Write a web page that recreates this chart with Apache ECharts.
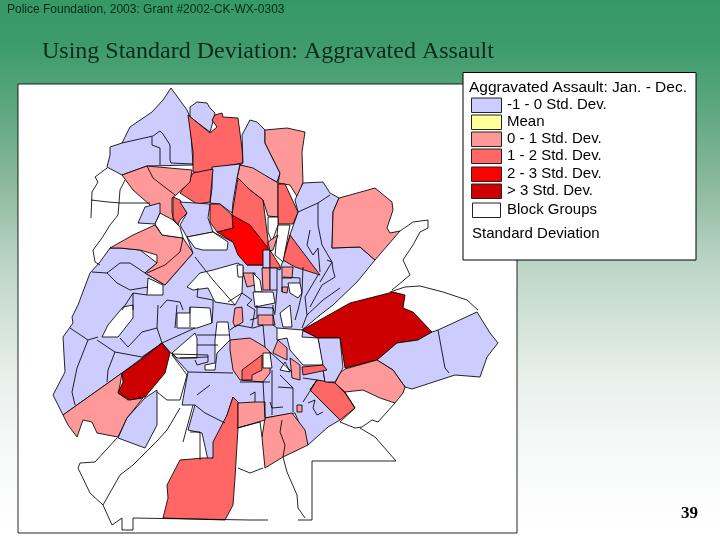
<!DOCTYPE html>
<html><head><meta charset="utf-8">
<style>html,body{margin:0;padding:0;background:#fff}#c{width:720px;height:540px}</style>
<script src="https://cdn.jsdelivr.net/npm/echarts@6/dist/echarts.min.js"></script>
</head><body><div id="c"></div>
<script>
const headerText = "Police Foundation, 2003: Grant #2002-CK-WX-0303";
const titleText = "Using Standard Deviation: Aggravated Assault";
const pageNumber = "39";
const legendTitle = "Aggravated Assault: Jan. - Dec.";
const legendFooter = "Standard Deviation";
const legendLabels = ["-1 - 0 Std. Dev.","Mean","0 - 1 Std. Dev.","1 - 2 Std. Dev.","2 - 3 Std. Dev.","> 3 Std. Dev.","Block Groups"];
const classColors = ["#ccccff","#ffff99","#ff9999","#ff6666","#ff0000","#cc0000","#ffffff"];
const LAV=0,PINK=2,MID=3,RED=4,DARK=5,WHITE=6;

// Block-group shapes, in drawing order: [class, outline]
const frame = [[18,84],[517,84],[517,533],[18,533]];
const shapes = [
 [LAV,[[171,88],[187,110],[190,117],[193,165],[147,166],[122,175],[107,167],[110,155],[110,147],[122,143],[130,127],[152,112],[163,100]]],
 [LAV,[[190,107],[197,102],[207,103],[210,108],[215,113],[212,125],[210,132],[190,117]]],
 [MID,[[188,115],[210,133],[217,127],[212,120],[215,115],[222,113],[223,117],[238,118],[242,148],[243,163],[220,167],[202,173],[193,172],[193,152]]],
 [LAV,[[243,163],[242,135],[250,120],[257,122],[265,130],[265,143],[280,173],[277,182],[250,168],[240,165]]],
 [PINK,[[265,130],[287,128],[305,132],[302,152],[303,182],[298,198],[290,185],[278,183],[277,182],[280,173],[265,143]]],
 [LAV,[[100,262],[110,248],[120,248],[140,250],[157,263],[145,273],[165,285],[193,253],[187,237],[213,232],[233,242],[247,265],[268,265],[280,270],[283,260],[290,235],[298,212],[295,200],[303,183],[323,182],[330,193],[339,198],[333,212],[332,248],[360,247],[375,260],[357,282],[333,305],[320,315],[302,330],[318,338],[325,382],[317,380],[310,390],[340,420],[328,427],[308,445],[295,413],[265,418],[238,403],[233,397],[213,458],[208,460],[202,433],[188,430],[195,405],[182,405],[188,372],[172,354],[162,343],[122,373],[63,415],[53,395],[65,372],[63,337],[73,323],[72,317],[78,305],[90,273]]],
 [PINK,[[240,165],[253,168],[278,183],[278,217],[268,216],[263,200],[250,190],[237,178]]],
 [MID,[[238,178],[250,190],[263,200],[268,240],[268,250],[232,215],[234,202]]],
 [RED,[[232,215],[250,225],[268,248],[268,265],[247,265],[238,255],[233,242],[217,232],[233,228]]],
 [MID,[[278,184],[285,184],[298,212],[293,224],[278,224]]],
 [LAV,[[212,167],[240,164],[237,178],[233,202],[232,213],[220,204],[210,203],[212,188]]],
 [MID,[[193,173],[213,169],[210,202],[197,204],[180,193],[188,182]]],
 [PINK,[[122,175],[147,166],[192,170],[190,182],[176,195],[172,198],[172,212],[174,222],[165,218],[150,205],[133,190]]],
 [MID,[[173,197],[180,200],[187,213],[180,220],[178,225],[173,218]]],
 [LAV,[[180,202],[210,204],[208,218],[213,232],[187,237],[180,225],[187,213]]],
 [MID,[[210,204],[220,204],[232,215],[233,228],[217,232],[210,222]]],
 [PINK,[[110,248],[133,235],[155,225],[162,235],[183,238],[193,253],[165,285],[145,273],[157,263],[157,255],[140,250],[120,248]]],
 [LAV,[[138,223],[145,207],[160,203],[160,213],[155,224]]],
 [PINK,[[339,198],[350,195],[375,188],[392,202],[393,210],[387,228],[390,233],[400,231],[375,260],[360,247],[332,248],[333,212]]],
 [DARK,[[302,330],[350,303],[393,292],[405,295],[403,308],[413,312],[432,332],[418,340],[397,343],[377,360],[345,368],[340,338],[318,338]]],
 [LAV,[[432,332],[438,330],[477,312],[490,333],[498,343],[487,357],[480,377],[455,375],[412,389],[405,387],[393,370],[377,360],[397,343],[418,340]]],
 [PINK,[[345,369],[377,360],[393,370],[405,387],[403,393],[395,403],[380,398],[363,390],[345,392],[335,383],[340,373]]],
 [MID,[[317,380],[335,383],[345,393],[355,408],[340,420],[310,390]]],
 [LAV,[[318,338],[340,338],[343,368],[335,382],[325,382]]],
 [PINK,[[265,418],[292,413],[305,430],[308,445],[283,457],[265,468],[263,448],[262,437]]],
 [MID,[[233,397],[238,402],[238,428],[235,478],[233,505],[225,520],[163,518],[168,498],[167,485],[180,460],[203,458],[213,458],[213,442],[227,415]]],
 [PINK,[[63,415],[122,373],[120,385],[118,393],[128,400],[143,398],[127,418],[118,437],[97,433],[92,422],[83,420],[77,437],[68,425]]],
 [DARK,[[162,343],[170,353],[165,373],[145,397],[130,400],[118,393],[123,382],[122,373],[138,362]]],
 [LAV,[[157,390],[157,425],[145,448],[118,438],[127,418],[145,398]]],
 [WHITE,[[102,337],[108,325],[123,307],[133,305],[133,318],[118,337]]],
 [WHITE,[[177,313],[190,313],[190,307],[210,308],[212,323],[197,328],[177,328]]],
 [WHITE,[[172,353],[195,333],[197,338],[197,358],[177,358]]],
 [WHITE,[[217,322],[228,322],[230,340],[217,353],[215,370],[205,370],[205,365],[215,363],[215,340]]],
 [WHITE,[[187,237],[213,232],[228,242],[227,250],[203,250],[195,248]]],
 [WHITE,[[160,213],[155,224],[162,235],[183,238],[180,227],[173,220]]],
 [WHITE,[[187,287],[200,273],[213,270],[238,263],[243,267],[242,293],[235,305],[215,302],[208,288],[193,290]]],
 [WHITE,[[148,278],[163,285],[163,295],[147,295]]],
 [LAV,[[263,250],[270,250],[270,268],[263,268]]],
 [MID,[[270,250],[280,266],[280,268],[270,268]]],
 [PINK,[[262,268],[270,268],[270,290],[263,290]]],
 [LAV,[[270,268],[277,268],[277,290],[270,290]]],
 [PINK,[[243,273],[255,273],[255,285],[247,287]]],
 [WHITE,[[253,273],[260,280],[262,292],[255,292]]],
 [WHITE,[[237,265],[243,265],[243,277],[238,277]]],
 [PINK,[[282,267],[293,267],[292,278],[282,278]]],
 [PINK,[[282,287],[288,287],[287,293],[282,292]]],
 [MID,[[290,235],[320,275],[295,267],[283,260]]],
 [WHITE,[[268,217],[278,217],[278,225],[272,242],[268,232]]],
 [WHITE,[[278,225],[290,225],[283,262],[275,255]]],
 [PINK,[[268,242],[278,235],[273,250],[270,251]]],
 [WHITE,[[288,283],[300,283],[302,293],[298,298],[290,293]]],
 [WHITE,[[253,292],[273,292],[275,303],[255,307]]],
 [WHITE,[[280,313],[290,305],[292,327],[283,327]]],
 [PINK,[[258,315],[273,315],[275,325],[258,325]]],
 [PINK,[[235,308],[242,307],[243,322],[235,327],[233,322]]],
 [WHITE,[[277,328],[303,330],[302,337],[318,338],[323,365],[303,365],[290,350],[287,338],[277,340]]],
 [MID,[[302,367],[323,365],[327,370],[303,375]]],
 [PINK,[[290,358],[300,365],[300,380],[292,378]]],
 [PINK,[[273,352],[278,340],[287,348],[287,360],[273,353]]],
 [PINK,[[230,340],[250,338],[265,347],[270,352],[270,373],[263,382],[240,380],[233,370],[230,350]]],
 [MID,[[242,370],[262,355],[262,370],[252,375],[252,380],[242,380]]],
 [WHITE,[[263,353],[270,353],[272,368],[263,368]]],
 [WHITE,[[280,370],[285,362],[290,372]]],
 [PINK,[[238,403],[255,402],[265,402],[265,420],[238,428]]],
 [PINK,[[297,405],[302,405],[302,412],[297,412]]]
];
// Unfilled block-group boundaries
const boundaries = [
 [[122,143],[153,136],[160,131],[163,134],[170,145],[170,160],[171,163],[193,164]],
 [[152,137],[152,145],[160,148],[160,165]],
 [[147,166],[153,178],[175,195]],
 [[107,168],[95,177],[98,182],[92,192],[91,218]],
 [[91,200],[108,202],[120,203],[150,203]],
 [[125,180],[120,190],[119,203],[118,215],[110,225],[102,238],[93,250],[95,262],[100,265]],
 [[92,272],[107,273],[117,283],[130,290],[148,287]],
 [[107,273],[120,263],[130,263],[145,273]],
 [[133,293],[133,310]],[[147,295],[133,293],[122,310]],
 [[160,308],[167,300],[180,302],[183,310]],
 [[195,257],[213,280],[235,305]],
 [[183,238],[180,252],[165,265],[147,273]],
 [[70,328],[88,340]],[[88,340],[77,368],[72,392],[75,405]],
 [[97,340],[115,352],[142,357],[162,343]],[[88,340],[98,337]],
 [[115,352],[108,370],[107,382]],
 [[120,338],[128,347],[142,332],[157,328],[158,305]],[[157,328],[162,343]],
 [[162,343],[195,328]],[[177,305],[175,328]],
 [[172,354],[208,355],[208,362],[197,365],[195,360]],
 [[188,372],[233,373]],[[197,395],[210,385]],
 [[195,405],[205,413],[225,423]],[[240,382],[270,382]],[[250,395],[255,392],[255,402]],
 [[198,288],[197,297],[213,300],[213,307],[212,323]],[[190,307],[190,327]],
 [[197,335],[230,335]],[[197,345],[218,345]],[[180,358],[208,357]],
 [[228,302],[242,293],[252,300],[247,305]],
 [[230,330],[237,325],[253,328],[263,325],[265,347]],
 [[247,305],[255,310],[252,327]],[[255,307],[273,308],[275,315]],
 [[277,290],[275,313]],[[282,278],[282,292]],[[283,277],[300,278],[300,283]],
 [[303,267],[302,293],[298,310],[295,320]],[[318,275],[305,297],[307,315]],
 [[340,288],[323,300],[307,315],[302,328]],[[327,260],[332,262],[320,282]],
 [[250,320],[257,318],[257,305]],[[273,305],[273,325],[277,328]],
 [[270,352],[292,372]],[[272,370],[272,415]],[[280,375],[293,388],[293,412]],[[263,382],[265,417]],
 [[293,388],[278,387]],[[270,402],[272,408],[283,407]],[[303,378],[317,380]],[[303,402],[317,380]],
 [[308,403],[315,400],[313,408],[317,415],[323,412]],
 [[298,212],[318,203],[330,195]],[[318,203],[318,225],[322,245],[332,262],[333,270],[335,277]],
 [[310,230],[307,245],[313,255],[318,248],[320,272]],[[335,277],[322,285],[310,307]],
 [[438,330],[445,368],[449,373]],
 [[282,420],[280,432],[285,445],[283,457]],
 [[345,392],[355,408]],[[355,408],[340,422],[355,428],[362,427],[372,420],[378,422],[395,403]],
 [[283,457],[287,472],[297,495],[298,508],[305,518]],
 [[268,520],[250,520],[133,518],[133,530],[122,530],[122,518],[112,525],[103,505],[90,493],[78,468],[80,463],[95,462],[117,438]],
 [[298,520],[312,520],[312,461],[347,461],[396,461],[375,437],[360,428]],
 [[103,505],[120,475],[133,465],[158,440],[167,430],[180,408]],
 [[157,392],[167,400],[180,400],[187,375],[172,355]],
 [[183,442],[193,405]],[[190,432],[200,432],[200,460]],
 [[238,468],[250,473],[263,468]],[[260,422],[262,437]],[[237,428],[260,422]],
 [[392,290],[410,275],[403,260],[413,245],[420,232],[428,228],[428,220],[413,222],[400,231]],
 [[390,292],[405,287],[420,286],[443,292],[467,300],[478,310]]
];

const regionNames = shapes.map((s,i)=>"bg"+i);
const features = [{type:"Feature",properties:{name:"frame"},geometry:{type:"Polygon",coordinates:[frame.concat([frame[0]]).map(p=>[p[0],-p[1]])]}}];
shapes.forEach((s,i)=>{
  const ring=s[1].concat([s[1][0]]).map(p=>[p[0],-p[1]]);
  features.push({type:"Feature",properties:{name:regionNames[i]},geometry:{type:"Polygon",coordinates:[ring]}});
});
features.push({type:"Feature",properties:{name:"lines"},geometry:{type:"MultiLineString",coordinates:boundaries.map(l=>l.map(p=>[p[0],-p[1]]))}});
echarts.registerMap("groups",{type:"FeatureCollection",features});

const mapData=[{name:"frame",value:WHITE}].concat(shapes.map((s,i)=>({name:regionNames[i],value:s[0]})));

const legendSwatchY=[98,115,132,149,167,184,203];
const legendEls=[];
const lf="15px 'Liberation Sans'";
legendEls.push({type:"rect",shape:{x:463,y:72.5,width:233,height:187.5},style:{fill:"#fff",stroke:"#000",lineWidth:1}});
legendEls.push({type:"text",style:{x:469,y:88,text:legendTitle,fill:"#000",font:"15.5px 'Liberation Sans'",verticalAlign:"middle"}});
legendLabels.forEach((l,i)=>{
  const y=legendSwatchY[i], last=i===legendLabels.length-1;
  legendEls.push({type:"rect",shape:{x:last?472.5:471.5,y:y,width:last?28:30,height:14.5},style:{fill:classColors[i],stroke:"#222",lineWidth:1}});
  legendEls.push({type:"text",style:{x:507,y:y+7,text:l,fill:"#000",font:lf,verticalAlign:"middle"}});
});
legendEls.push({type:"text",style:{x:472,y:234,text:legendFooter,fill:"#000",font:lf,verticalAlign:"middle"}});
legendEls.push({type:"text",style:{x:7,y:10,text:headerText,fill:"#0c2a1a",font:"12px 'Liberation Sans'",verticalAlign:"middle"}});
legendEls.push({type:"text",style:{x:42,y:52,text:titleText,fill:"#0c2a1a",font:"24px 'Liberation Serif'",verticalAlign:"middle"}});
legendEls.push({type:"text",style:{x:681,y:514,text:pageNumber,fill:"#000",font:"bold 17px 'Liberation Serif'",verticalAlign:"middle"}});

const chart=echarts.init(document.getElementById("c"),null,{renderer:"canvas"});
chart.setOption({
  animation:false,
  backgroundColor:{type:"linear",x:0,y:0,x2:0,y2:1,colorStops:[{offset:0,color:"#359966"},{offset:0.08,color:"#3d9b6b"},{offset:0.2,color:"#5da77f"},{offset:0.35,color:"#8fbb9f"},{offset:0.5,color:"#bfd7c9"},{offset:0.7,color:"#e8f0ec"},{offset:0.85,color:"#f8faf9"},{offset:1,color:"#ffffff"}]},
  visualMap:{show:false,type:"piecewise",seriesIndex:0,pieces:classColors.map((c,i)=>({value:i,color:c})),outOfRange:{color:"#ffffff"}},
  series:[{type:"map",map:"groups",left:18,top:84,width:499,height:449,aspectScale:1,roam:false,silent:true,selectedMode:false,
    label:{show:false},emphasis:{disabled:true},
    itemStyle:{borderColor:"#000",borderWidth:0.85},
    data:mapData,z:2}],
  graphic:{elements:legendEls.map(e=>Object.assign({z:100,silent:true},e))}
});
</script></body></html>
